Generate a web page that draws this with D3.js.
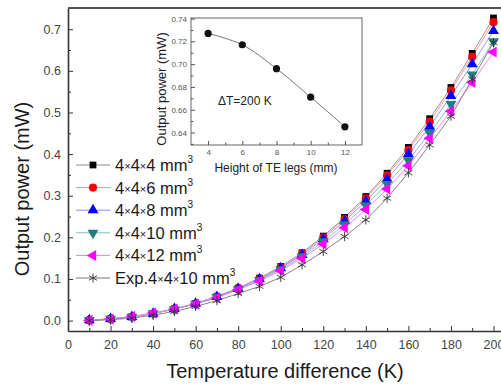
<!DOCTYPE html>
<html>
<head>
<meta charset="utf-8">
<script src="https://cdn.jsdelivr.net/npm/d3@7"></script>
<style>
  body { margin: 0; background: #fff; }
  svg { font-family: "Liberation Sans", Arial, sans-serif; }
</style>
</head>
<body>
<script>
// temperature difference (K)
let temps = [10, 20, 30, 40, 50, 60, 70, 80, 90, 100, 110, 120, 130, 140, 150, 160, 170, 180, 190, 200];

// output power (mW)
let s4x4x4 = [0.001, 0.004, 0.009, 0.017, 0.028, 0.041, 0.058, 0.078, 0.102, 0.130, 0.163, 0.203, 0.248, 0.298, 0.354, 0.416, 0.485, 0.560, 0.642, 0.727];
let s4x4x6 = [0.001, 0.004, 0.009, 0.017, 0.028, 0.041, 0.058, 0.078, 0.101, 0.128, 0.161, 0.200, 0.244, 0.294, 0.349, 0.410, 0.478, 0.553, 0.634, 0.717];
let s4x4x8 = [0.001, 0.004, 0.009, 0.017, 0.028, 0.041, 0.057, 0.077, 0.100, 0.126, 0.158, 0.196, 0.239, 0.287, 0.340, 0.400, 0.466, 0.540, 0.616, 0.696];
let s4x4x10 = [0.001, 0.004, 0.009, 0.017, 0.027, 0.040, 0.056, 0.075, 0.097, 0.123, 0.154, 0.190, 0.231, 0.277, 0.328, 0.385, 0.450, 0.520, 0.591, 0.671];
let s4x4x12 = [0.001, 0.004, 0.010, 0.018, 0.028, 0.040, 0.055, 0.074, 0.095, 0.120, 0.150, 0.184, 0.223, 0.267, 0.316, 0.372, 0.438, 0.503, 0.572, 0.645];
let exp4x4x10 = [0.000, 0.002, 0.006, 0.013, 0.022, 0.034, 0.048, 0.065, 0.082, 0.104, 0.134, 0.166, 0.202, 0.242, 0.294, 0.355, 0.422, 0.491, 0.580, 0.668];

let seriesNames = ["4\u00d74\u00d74", "4\u00d74\u00d76", "4\u00d74\u00d78", "4\u00d74\u00d710", "4\u00d74\u00d712", "Exp.4\u00d74\u00d710"];

let xTicks = [0, 20, 40, 60, 80, 100, 120, 140, 160, 180, 200];
let yTicks = [0.0, 0.1, 0.2, 0.3, 0.4, 0.5, 0.6, 0.7];

// inset: output power at dT = 200 K vs leg height
let legHeights = [4, 6, 8, 10, 12];
let insetPower = [0.727, 0.717, 0.696, 0.671, 0.645];
let insetXTicks = [4, 6, 8, 10, 12];
let insetYTicks = [0.64, 0.66, 0.68, 0.70, 0.72, 0.74];

let w = 501;
let h = 385;

let styles = [
  { fill: "#000000", line: "#8a8a8a", sym: d3.symbolSquare, size: 46, rot: 0 },
  { fill: "#ff0000", line: "#ff8a8a", sym: d3.symbolCircle, size: 52, rot: 0 },
  { fill: "#0000ff", line: "#8a8aff", sym: d3.symbolTriangle, size: 52, rot: 0 },
  { fill: "#1e8080", line: "#7fbcbc", sym: d3.symbolTriangle, size: 52, rot: 180 },
  { fill: "#ff00ff", line: "#ff70ff", sym: d3.symbolTriangle, size: 52, rot: -90 },
  { fill: "none", line: "#777777", sym: d3.symbolAsterisk, size: 60, rot: 0, stroke: "#333" }
];

let allSeries = [s4x4x4, s4x4x6, s4x4x8, s4x4x10, s4x4x12, exp4x4x10];

let svg = d3.select("body").append("svg")
  .attr("width", w)
  .attr("height", h);

let xScale = d3.scaleLinear().domain([0, 204]).range([68, 502]);
let yScale = d3.scaleLinear().domain([-0.025, 0.751]).range([331, 8]);

// frame top
svg.append("line")
  .attr("x1", 68).attr("x2", 502)
  .attr("y1", 8).attr("y2", 8)
  .attr("stroke", "#555").attr("stroke-width", 1.8);

// minor ticks
svg.append("g")
  .attr("transform", "translate(0,331)")
  .call(d3.axisBottom(xScale).tickValues(d3.range(10, 201, 20)).tickSize(-3).tickSizeOuter(0).tickFormat(""))
  .call(g => g.select(".domain").remove())
  .call(g => g.selectAll("line").attr("stroke", "#333"));
svg.append("g")
  .attr("transform", "translate(68,0)")
  .call(d3.axisLeft(yScale).tickValues(d3.range(0.05, 0.75, 0.1)).tickSize(-3).tickSizeOuter(0).tickFormat(""))
  .call(g => g.select(".domain").remove())
  .call(g => g.selectAll("line").attr("stroke", "#333"));

let xAxis = svg.append("g")
  .attr("transform", "translate(0,331)")
  .call(d3.axisBottom(xScale).tickValues(xTicks).tickSize(-5).tickSizeOuter(0).tickPadding(9).tickFormat(d3.format("d")));
let yAxis = svg.append("g")
  .attr("transform", "translate(68,0)")
  .call(d3.axisLeft(yScale).tickValues(yTicks).tickSize(-5).tickSizeOuter(0).tickPadding(7).tickFormat(d3.format(".1f")));

[xAxis, yAxis].forEach(g => {
  g.select(".domain").attr("stroke", "#333").attr("stroke-width", 1.6);
  g.selectAll("line").attr("stroke", "#333");
  g.selectAll("text").attr("fill", "#444").style("font-size", "12.5px");
});

// axis titles
svg.append("text")
  .attr("x", 285).attr("y", 378)
  .attr("text-anchor", "middle")
  .style("font-size", "20px")
  .attr("fill", "#1a1a1a")
  .text("Temperature difference (K)");
svg.append("text")
  .attr("transform", "translate(29,189) rotate(-90)")
  .attr("text-anchor", "middle")
  .style("font-size", "20px")
  .attr("fill", "#1a1a1a")
  .text("Output power (mW)");

// series
let line = d3.line()
  .x((d, i) => xScale(temps[i]))
  .y(d => yScale(d));

allSeries.forEach((values, k) => {
  let st = styles[k];
  svg.append("path")
    .datum(values)
    .attr("d", line)
    .attr("fill", "none")
    .attr("stroke", st.line)
    .attr("stroke-width", 0.9);
});

allSeries.forEach((values, k) => {
  let st = styles[k];
  svg.append("g").selectAll("path")
    .data(values)
    .enter()
    .append("path")
    .attr("d", d3.symbol().type(st.sym).size(st.size))
    .attr("transform", (d, i) => "translate(" + xScale(temps[i]) + "," + yScale(d) + ") rotate(" + st.rot + ")")
    .attr("fill", st.fill)
    .attr("stroke", st.stroke || "none")
    .attr("stroke-width", 0.9);
});

// legend
let legend = svg.append("g");
seriesNames.forEach((name, k) => {
  let st = styles[k];
  let y = 165 + k * 22.6;
  legend.append("line")
    .attr("x1", 76).attr("x2", 110)
    .attr("y1", y).attr("y2", y)
    .attr("stroke", st.line).attr("stroke-width", 1);
  legend.append("path")
    .attr("d", d3.symbol().type(st.sym).size(st.size))
    .attr("transform", "translate(93," + y + ") rotate(" + st.rot + ")")
    .attr("fill", st.fill)
    .attr("stroke", st.stroke || "none")
    .attr("stroke-width", 0.9);
  let t = legend.append("text")
    .attr("x", 115).attr("y", y + 6)
    .attr("fill", "#1a1a1a")
    .style("font-size", "16.5px");
  name.split("\u00d7").forEach((part, j) => {
    if (j > 0) t.append("tspan").style("font-size", "11px").attr("dy", -1).text("\u00d7");
    t.append("tspan").attr("dy", j > 0 ? 1 : 0).text(part);
  });
  t.append("tspan").text(" mm");
  t.append("tspan").style("font-size", "10px").attr("dy", -8).text("3");
});

// inset
let ix = d3.scaleLinear().domain([3, 13]).range([191, 362]);
let iy = d3.scaleLinear().domain([0.629, 0.7405]).range([145, 18]);

let inset = svg.append("g");
inset.append("rect")
  .attr("x", 191).attr("y", 18)
  .attr("width", 171).attr("height", 127)
  .attr("fill", "#fff")
  .attr("stroke", "#666").attr("stroke-width", 1);

inset.append("g")
  .attr("transform", "translate(0,145)")
  .call(d3.axisBottom(ix).tickValues([5, 7, 9, 11]).tickSize(-2.5).tickSizeOuter(0).tickFormat(""))
  .call(g => g.select(".domain").remove());
inset.append("g")
  .attr("transform", "translate(191,0)")
  .call(d3.axisLeft(iy).tickValues([0.63, 0.65, 0.67, 0.69, 0.71, 0.73]).tickSize(-2.5).tickSizeOuter(0).tickFormat(""))
  .call(g => g.select(".domain").remove());
let ixAxis = inset.append("g")
  .attr("transform", "translate(0,145)")
  .call(d3.axisBottom(ix).tickValues(insetXTicks).tickSize(-4).tickSizeOuter(0).tickPadding(4).tickFormat(d3.format("d")));
let iyAxis = inset.append("g")
  .attr("transform", "translate(191,0)")
  .call(d3.axisLeft(iy).tickValues(insetYTicks).tickSize(-4).tickSizeOuter(0).tickPadding(4).tickFormat(d3.format(".2f")));
[ixAxis, iyAxis].forEach(g => {
  g.select(".domain").remove();
  g.selectAll("text").attr("fill", "#555").style("font-size", "8px");
});
inset.selectAll("line").attr("stroke", "#555");

inset.append("path")
  .datum(insetPower)
  .attr("d", d3.line().curve(d3.curveCatmullRom).x((d, i) => ix(legHeights[i])).y(d => iy(d)))
  .attr("fill", "none")
  .attr("stroke", "#666")
  .attr("stroke-width", 0.9);
inset.selectAll("circle")
  .data(insetPower)
  .enter()
  .append("circle")
  .attr("cx", (d, i) => ix(legHeights[i]))
  .attr("cy", d => iy(d))
  .attr("r", 3.6)
  .attr("fill", "#111");

inset.append("text")
  .attr("x", 218).attr("y", 105)
  .attr("fill", "#222")
  .style("font-size", "12px")
  .text("\u0394T=200 K");
inset.append("text")
  .attr("x", 276).attr("y", 172)
  .attr("text-anchor", "middle")
  .attr("fill", "#222")
  .style("font-size", "12px")
  .text("Height of TE legs (mm)");
inset.append("text")
  .attr("transform", "translate(166,89) rotate(-90)")
  .attr("text-anchor", "middle")
  .attr("fill", "#222")
  .style("font-size", "13px")
  .text("Output power (mW)");
</script>
</body>
</html>
